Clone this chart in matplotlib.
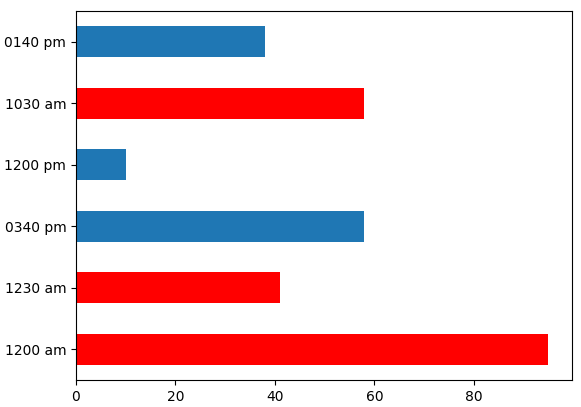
import matplotlib
matplotlib.use("Agg")
import matplotlib.pyplot as plt

times = ["1200 am", "1230 am", "0340 pm", "1200 pm", "1030 am", "0140 pm"]
counts = [95, 41, 58, 10, 58, 38]
bar_colors = ["red", "red", "#1f77b4", "#1f77b4", "red", "#1f77b4"]

fig = plt.figure(figsize=(5.81, 4.07), dpi=100)
ax = fig.add_axes([76 / 581, 1 - 380 / 407, 496 / 581, 369 / 407])
ax.barh(range(len(times)), counts, height=0.5, color=bar_colors)
ax.set_yticks(range(len(times)))
ax.set_yticklabels(times)
ax.set_xticks([0, 20, 40, 60, 80])
ax.margins(x=0.05, y=0.05)
ax.set_xlim(0, 99.75)
ax.set_ylim(-0.5, 5.5)

fig.savefig("out.png", dpi=100)
